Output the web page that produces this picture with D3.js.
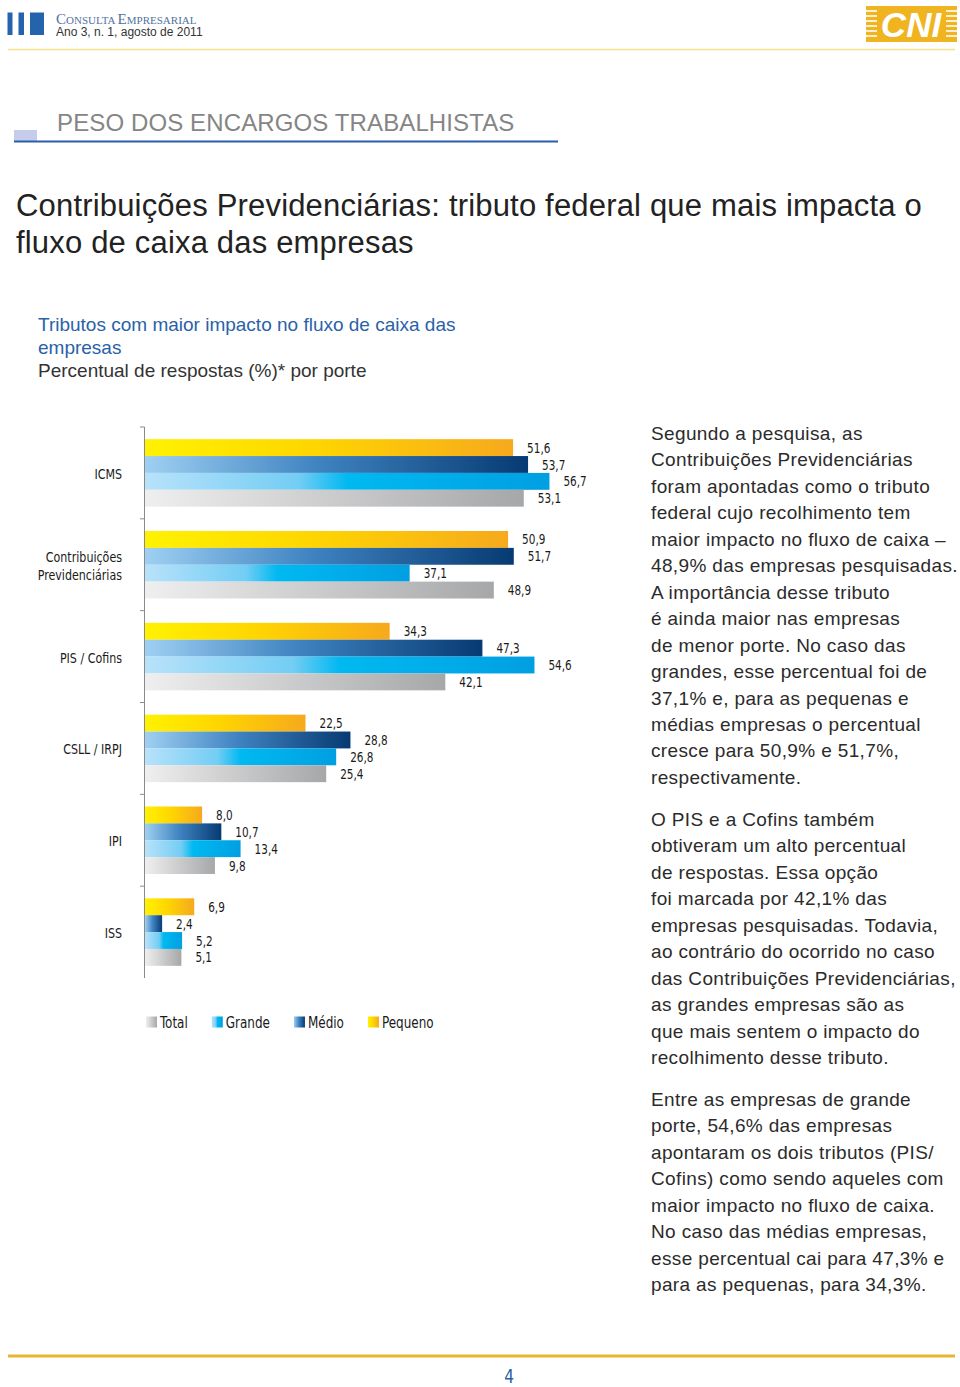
<!DOCTYPE html>
<html><head><meta charset="utf-8">
<script src="https://cdn.jsdelivr.net/npm/d3@7"></script>
<style>
html,body{margin:0;padding:0;background:#fff;}
svg{display:block;}
.cond{font-family:"Liberation Sans Narrow","DejaVu Sans Condensed","Roboto Condensed","Arial Narrow",sans-serif;font-stretch:condensed;}
.sans{font-family:"Liberation Sans",Arial,Helvetica,sans-serif;}
</style></head>
<body>
<svg id="page" width="960" height="1387"></svg>
<script>
// ---------- data ----------
const categories = ["ICMS", "Contribuições Previdenciárias", "PIS / Cofins", "CSLL / IRPJ", "IPI", "ISS"];
const categoryLines = [["ICMS"], ["Contribuições", "Previdenciárias"], ["PIS / Cofins"], ["CSLL / IRPJ"], ["IPI"], ["ISS"]];
const seriesNames = ["Pequeno", "Médio", "Grande", "Total"];
const pequeno = [51.6, 50.9, 34.3, 22.5, 8.0, 6.9];
const medio   = [53.7, 51.7, 47.3, 28.8, 10.7, 2.4];
const grande  = [56.7, 37.1, 54.6, 26.8, 13.4, 5.2];
const total   = [53.1, 48.9, 42.1, 25.4, 9.8, 5.1];
const legendOrder = ["Total", "Grande", "Médio", "Pequeno"];

const titleLines = ["Contribuições Previdenciárias: tributo federal que mais impacta o", "fluxo de caixa das empresas"];
const subtitleBlue = ["Tributos com maior impacto no fluxo de caixa das", "empresas"];
const subtitleDark = "Percentual de respostas (%)* por porte";
const para1 = ["Segundo a pesquisa, as", "Contribuições Previdenciárias", "foram apontadas como o tributo", "federal cujo recolhimento tem", "maior impacto no fluxo de caixa –", "48,9% das empresas pesquisadas.", "A importância desse tributo", "é ainda maior nas empresas", "de menor porte. No caso das", "grandes, esse percentual foi de", "37,1% e, para as pequenas e", "médias empresas o percentual", "cresce para 50,9% e 51,7%,", "respectivamente."];
const para2 = ["O PIS e a Cofins também", "obtiveram um alto percentual", "de respostas. Essa opção", "foi marcada por 42,1% das", "empresas pesquisadas. Todavia,", "ao contrário do ocorrido no caso", "das Contribuições Previdenciárias,", "as grandes empresas são as", "que mais sentem o impacto do", "recolhimento desse tributo."];
const para3 = ["Entre as empresas de grande", "porte, 54,6% das empresas", "apontaram os dois tributos (PIS/", "Cofins) como sendo aqueles com", "maior impacto no fluxo de caixa.", "No caso das médias empresas,", "esse percentual cai para 47,3% e", "para as pequenas, para 34,3%."];

const valuesBySeries = {"Pequeno": pequeno, "Médio": medio, "Grande": grande, "Total": total};

// ---------- page ----------
const svg = d3.select("#page");
const defs = svg.append("defs");

// squeeze a condensed text horizontally; returns natural width * f
function narrow(sel, f) {
  let w0 = 0;
  sel.each(function () {
    const w = this.getComputedTextLength();
    w0 = w * f;
    d3.select(this).attr("textLength", w * f).attr("lengthAdjust", "spacingAndGlyphs");
  });
  return w0;
}

const gradStops = {
  "Pequeno": [[0, "#fff200"], [0.45, "#ffd600"], [1, "#f6a91d"]],
  "Médio":   [[0, "#9fd0f2"], [0.45, "#3f83c1"], [1, "#073a72"]],
  "Grande":  [[0, "#b8e2fa"], [0.38, "#73cdf4"], [0.5, "#00b9f1"], [1, "#009fe2"]],
  "Total":   [[0, "#efefef"], [1, "#a6a7a9"]]
};
const gradId = {"Pequeno": "gP", "Médio": "gM", "Grande": "gG", "Total": "gT"};
Object.keys(gradStops).forEach(k => {
  const g = defs.append("linearGradient").attr("id", gradId[k]).attr("x1", 0).attr("x2", 1).attr("y1", 0).attr("y2", 0);
  gradStops[k].forEach(s => g.append("stop").attr("offset", s[0]).attr("stop-color", s[1]));
});

// header
const hdr = svg.append("g");
[[7.5, 5], [18.5, 5.5], [30, 14]].forEach(b => hdr.append("rect").attr("x", b[0]).attr("y", 12.5).attr("width", b[1]).attr("height", 22.5).attr("fill", "#2563ad"));
const ce = hdr.append("text").attr("x", 56).attr("y", 24).attr("fill", "#52729e")
  .style("font-family", "'Liberation Serif','DejaVu Serif',serif");
[["C", 15], ["ONSULTA ", 11], ["E", 15], ["MPRESARIAL", 11]].forEach(t => ce.append("tspan").attr("font-size", t[1]).text(t[0]));
hdr.append("text").attr("class", "sans").attr("x", 56).attr("y", 36).attr("font-size", 12).attr("fill", "#333").text("Ano 3, n. 1, agosto de 2011");
hdr.append("line").attr("x1", 8).attr("x2", 955).attr("y1", 49.5).attr("y2", 49.5).attr("stroke", "#f2e48e").attr("stroke-width", 1.3);

// CNI logo
const logo = svg.append("g");
logo.append("rect").attr("x", 866).attr("y", 6).attr("width", 91).attr("height", 36).attr("fill", "#f0b420");
[11, 16, 21, 26, 31, 36].forEach(yy => {
  logo.append("line").attr("x1", 866).attr("x2", 877).attr("y1", yy).attr("y2", yy).attr("stroke", "#fff").attr("stroke-width", 1.6);
  logo.append("line").attr("x1", 946).attr("x2", 957).attr("y1", yy).attr("y2", yy).attr("stroke", "#fff").attr("stroke-width", 1.6);
});
logo.append("rect").attr("x", 877).attr("y", 6).attr("width", 69).attr("height", 36).attr("fill", "#f0b420");
logo.append("text").attr("class", "sans").attr("x", 911).attr("y", 37).attr("text-anchor", "middle")
  .attr("font-size", 35).attr("font-weight", "bold").attr("font-style", "italic").attr("fill", "#fff").text("CNI");

// section title
svg.append("rect").attr("x", 14).attr("y", 130).attr("width", 23).attr("height", 11).attr("fill", "#c6cdec");
svg.append("line").attr("x1", 14).attr("x2", 558).attr("y1", 141.5).attr("y2", 141.5).attr("stroke", "#2a5ea8").attr("stroke-width", 2);
svg.append("text").attr("class", "sans").attr("x", 57).attr("y", 131).attr("font-size", 24).attr("letter-spacing", 0.12).attr("fill", "#858585").text("PESO DOS ENCARGOS TRABALHISTAS");

// main title
titleLines.forEach((t, i) => svg.append("text").attr("class", "sans").attr("x", 16).attr("y", 216 + i * 37)
  .attr("font-size", 31).attr("letter-spacing", 0.18).attr("fill", "#222").text(t));

// subtitle
subtitleBlue.forEach((t, i) => svg.append("text").attr("class", "sans").attr("x", 38).attr("y", 331 + i * 23)
  .attr("font-size", 19).attr("fill", "#2a62a8").text(t));
svg.append("text").attr("class", "sans").attr("x", 38).attr("y", 377).attr("font-size", 19).attr("fill", "#333").text(subtitleDark);

// paragraphs
function para(lines, y0) {
  lines.forEach((t, i) => svg.append("text").attr("class", "sans").attr("x", 651).attr("y", y0 + i * 26.45)
    .attr("font-size", 19).attr("letter-spacing", 0.36).attr("fill", "#2b2b2b").text(t));
}
para(para1, 440);
para(para2, 826);
para(para3, 1106);

// ---------- chart ----------
const y = d3.scaleBand().domain(categories).range([427, 978]).paddingInner(0.265).paddingOuter(0.1325);
const ySeries = d3.scaleBand().domain(seriesNames).range([0, y.bandwidth()]);
const x = d3.scaleLinear().domain([0, 60]).range([145, 573]);

const chart = svg.append("g");
// axis line + ticks
chart.append("line").attr("x1", 144.5).attr("x2", 144.5).attr("y1", 427).attr("y2", 978).attr("stroke", "#8a8a8a").attr("stroke-width", 1);
const step = y.step();
d3.range(categories.length).forEach(i => {
  const ty = 427 + i * step;
  chart.append("line").attr("x1", 140).attr("x2", 144.5).attr("y1", ty).attr("y2", ty).attr("stroke", "#8a8a8a").attr("stroke-width", 1);
});

// category labels
categories.forEach((c, i) => {
  const lines = categoryLines[i];
  const cy = y(c) + y.bandwidth() / 2 + 1;
  lines.forEach((ln, j) => {
    const t = chart.append("text").attr("class", "cond").attr("x", 122).attr("text-anchor", "end")
      .attr("y", cy + (j - (lines.length - 1) / 2) * 18).attr("dy", "0.35em")
      .attr("font-size", 14.5).attr("fill", "#1a1a1a").text(ln);
    narrow(t, 0.85);
  });
});

// bars
const flat = [];
categories.forEach((c, i) => seriesNames.forEach(s => flat.push({cat: c, s: s, v: valuesBySeries[s][i]})));
chart.selectAll("rect.bar").data(flat).join("rect").attr("class", "bar")
  .attr("x", x(0)).attr("y", d => y(d.cat) + ySeries(d.s))
  .attr("width", d => x(d.v) - x(0)).attr("height", ySeries.bandwidth())
  .attr("fill", d => "url(#" + gradId[d.s] + ")");

const fmt = v => v.toFixed(1).replace(".", ",");
const vals = chart.selectAll("text.val").data(flat).join("text").attr("class", "val cond")
  .attr("x", d => x(d.v) + 14).attr("y", d => y(d.cat) + ySeries(d.s) + ySeries.bandwidth() / 2).attr("dy", "0.36em")
  .attr("font-size", 14).attr("fill", "#1a1a1a").text(d => fmt(d.v));
narrow(vals, 0.83);

// legend
const leg = chart.append("g");
let lx = 146;
legendOrder.forEach(s => {
  leg.append("rect").attr("x", lx).attr("y", 1016.5).attr("width", 11).attr("height", 11).attr("fill", "url(#" + gradId[s] + ")");
  const t = leg.append("text").attr("class", "cond").attr("x", lx + 14).attr("y", 1022).attr("dy", "0.36em")
    .attr("font-size", 15.5).attr("fill", "#1a1a1a").text(s);
  const w = narrow(t, 0.86);
  lx += 14 + w + 24;
});

// footer
svg.append("line").attr("x1", 8).attr("x2", 955).attr("y1", 1356).attr("y2", 1356).attr("stroke", "#e8b531").attr("stroke-width", 3);
const pg = svg.append("text").attr("class", "cond").attr("x", 509).attr("y", 1383).attr("text-anchor", "middle")
  .attr("font-size", 20).attr("fill", "#2a5fa5").text("4");
narrow(pg, 0.85);
</script>
</body></html>
